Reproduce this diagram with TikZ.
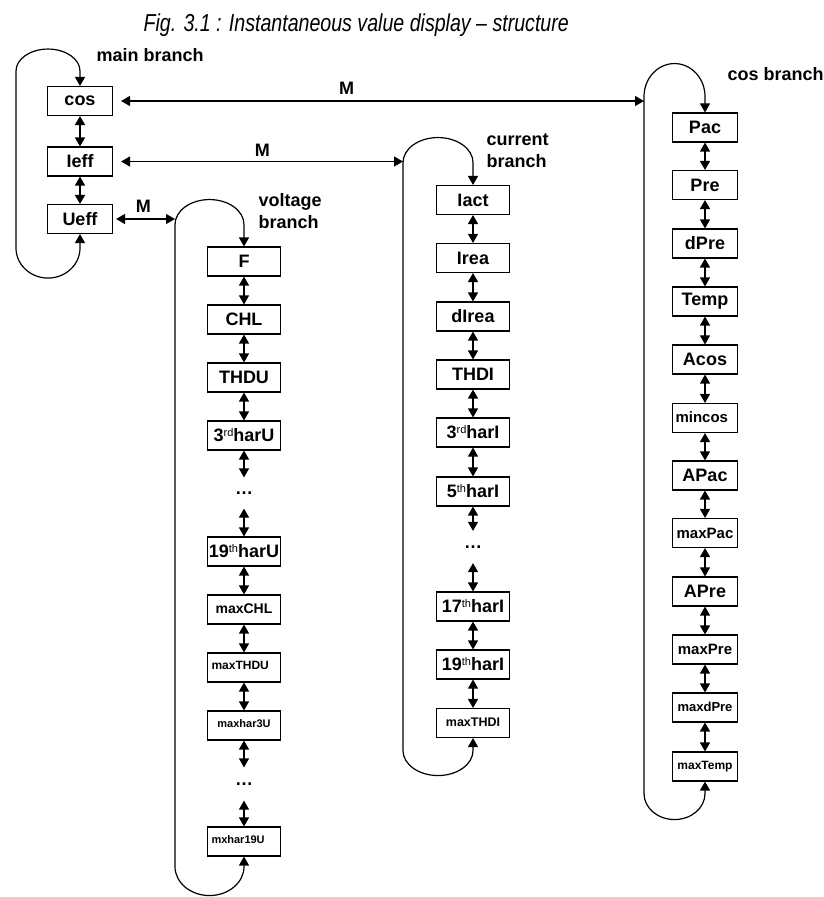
\documentclass[tikz,border=0pt]{standalone}
\usepackage{fontspec}
\setmainfont{Liberation Sans}
\newfontfamily\titlefont[FakeStretch=0.8]{Liberation Sans}
\usetikzlibrary{arrows.meta}
\newcommand\supr[1]{\raisebox{5pt}{\mdseries\fontsize{11}{11}\selectfont #1}}
\begin{document}
\begin{tikzpicture}[x=1pt,y=-1pt,
  line width=1.2pt,
  dbl/.style={{Triangle[width=10pt,length=9pt]}-{Triangle[width=10pt,length=9pt]}},
  bx/.style={draw, line width=1.1pt, minimum height=29pt, inner sep=0pt, font=\bfseries\fontsize{18}{18}\selectfont},
  mbox/.style={bx, minimum width=65pt},
  vbox/.style={bx, minimum width=73pt},
  fs/.style={font=\bfseries\fontsize{#1}{#1}\selectfont},
  lft/.style={text width=#1, align=left, inner xsep=4pt},
  lab/.style={font=\bfseries\fontsize{18}{18}\selectfont, inner sep=0pt},
  dotnode/.style={inner sep=0pt, minimum height=#1, font=\bfseries\fontsize{18}{18}\selectfont}
]
\useasboundingbox (0,0) rectangle (823,897);

% title
\node[anchor=base west, inner sep=0pt, font=\titlefont\itshape\fontsize{24.5}{24.5}\selectfont] (title) at (143,31) {Fig. 3.1 : Instantaneous value display \textendash{} structure};

% main branch
\node[mbox] (cos) at (80,101) {cos};
\node[mbox] (ieff) at (80,161.5) {Ieff};
\node[mbox] (ueff) at (80,219) {Ueff};
\node[lab, anchor=base west] (mainlab) at (96,61) {main branch};

% voltage branch
\node[vbox] (F) at (244,261.5) {F};
\node[vbox] (CHL) at (244,319.5) {CHL};
\node[vbox] (THDU) at (244,377.5) {THDU};
\node[vbox] (h3U) at (244,435.5) {3\supr{rd}harU};
\node[dotnode=30pt] (dv1) at (244,493) {\ldots};
\node[vbox] (h19U) at (244,551.5) {19\supr{th}harU};
\node[vbox, fs=14] (maxCHL) at (244,609.5) {\raisebox{2pt}{maxCHL}};
\node[vbox, fs=12, lft=65pt] (maxTHDU) at (244,667.5) {\raisebox{4pt}{maxTHDU}};
\node[vbox, fs=11] (maxhar3U) at (244,725.5) {\raisebox{4.5pt}{maxhar3U}};
\node[dotnode=32pt] (dv2) at (244,784) {\ldots};
\node[vbox, fs=11, lft=65pt] (mxhar19U) at (244,841.5) {\raisebox{4pt}{mxhar19U}};
\node[lab, anchor=base west] (vlab1) at (258,206) {voltage};
\node[lab, anchor=base west] (vlab2) at (258,228) {branch};

% current branch
\node[vbox] (Iact) at (473,200) {Iact};
\node[vbox] (Irea) at (473,258) {Irea};
\node[vbox] (dIrea) at (473,316.5) {dIrea};
\node[vbox] (THDI) at (473,374.5) {THDI};
\node[vbox] (h3I) at (473,432.5) {3\supr{rd}harI};
\node[vbox] (h5I) at (473,491.5) {5\supr{th}harI};
\node[dotnode=31pt] (dc) at (473,547) {\ldots};
\node[vbox] (h17I) at (473,606.5) {17\supr{th}harI};
\node[vbox] (h19I) at (473,664.5) {19\supr{th}harI};
\node[vbox, fs=12.5] (maxTHDI) at (473,723) {\raisebox{1.5pt}{maxTHDI}};
\node[lab, anchor=base west] (clab1) at (486,145) {current};
\node[lab, anchor=base west] (clab2) at (486,167) {branch};

% cos branch
\node[mbox] (Pac) at (705,127.5) {Pac};
\node[mbox] (Pre) at (705,185) {Pre};
\node[mbox] (dPre) at (705,243.5) {dPre};
\node[mbox] (Temp) at (705,301.5) {Temp};
\node[mbox] (Acos) at (705,359.5) {Acos};
\node[mbox, fs=15, lft=59pt, inner xsep=3pt] (mincos) at (705,418) {\raisebox{2pt}{mincos}};
\node[mbox] (APac) at (705,475.5) {APac};
\node[mbox, fs=15] (maxPac) at (705,533) {maxPac};
\node[mbox] (APre) at (705,591.5) {APre};
\node[mbox, fs=15] (maxPre) at (705,649.5) {\raisebox{1pt}{maxPre}};
\node[mbox, fs=13] (maxdPre) at (705,707.5) {\raisebox{1.5pt}{maxdPre}};
\node[mbox, fs=12] (maxTemp) at (705,766.5) {\raisebox{1.5pt}{maxTemp}};
\node[lab, anchor=base west] (coslab) at (727,80) {cos branch};

% arrows inside branches
\foreach \a/\b in {cos/ieff, ieff/ueff,
  F/CHL, CHL/THDU, THDU/h3U, h3U/dv1, dv1/h19U, h19U/maxCHL, maxCHL/maxTHDU, maxTHDU/maxhar3U, maxhar3U/dv2, dv2/mxhar19U,
  Iact/Irea, Irea/dIrea, dIrea/THDI, THDI/h3I, h3I/h5I, h5I/dc, dc/h17I, h17I/h19I, h19I/maxTHDI,
  Pac/Pre, Pre/dPre, dPre/Temp, Temp/Acos, Acos/mincos, mincos/APac, APac/maxPac, maxPac/APre, APre/maxPre, maxPre/maxdPre, maxdPre/maxTemp}
  \draw[dbl] (\a.south) -- (\b.north);

% loops
\draw[dbl] (ueff.south) -- ++(0,14) arc[start angle=0,end angle=180,x radius=32,y radius=30]
  -- ++(0,-177) arc[start angle=180,end angle=360,x radius=32,y radius=22] -- (cos.north);
\draw[dbl] (mxhar19U.south) -- ++(0,10) arc[start angle=0,end angle=180,x radius=34.5,y radius=29]
  -- ++(0,-642) arc[start angle=180,end angle=360,x radius=34.5,y radius=25] -- (F.north);
\draw[dbl] (maxTHDI.south) -- ++(0,12.5) arc[start angle=0,end angle=180,x radius=35,y radius=25]
  -- ++(0,-588) arc[start angle=180,end angle=360,x radius=35,y radius=25] -- (Iact.north);
\draw[dbl] (maxTemp.south) -- ++(0,12) arc[start angle=0,end angle=180,x radius=30.5,y radius=26]
  -- ++(0,-697) arc[start angle=180,end angle=360,x radius=30.5,y radius=33] -- (Pac.north);

% M connectors
\coordinate (cbL) at (644,101);
\coordinate (crL) at (403,161.5);
\coordinate (vL) at (175,219);
\draw[dbl, shorten <=8pt] (cos.east) -- (cbL) node[pos=0.44, lab, above=6pt] (m1) {M};
\draw[dbl, shorten <=8pt] (ieff.east) -- (crL) node[pos=0.515, lab, above=4pt] (m2) {M};
\draw[dbl, shorten <=3pt] (ueff.east) -- (vL) node[pos=0.49, lab, above=6pt] (m3) {M};
\end{tikzpicture}
\end{document}
